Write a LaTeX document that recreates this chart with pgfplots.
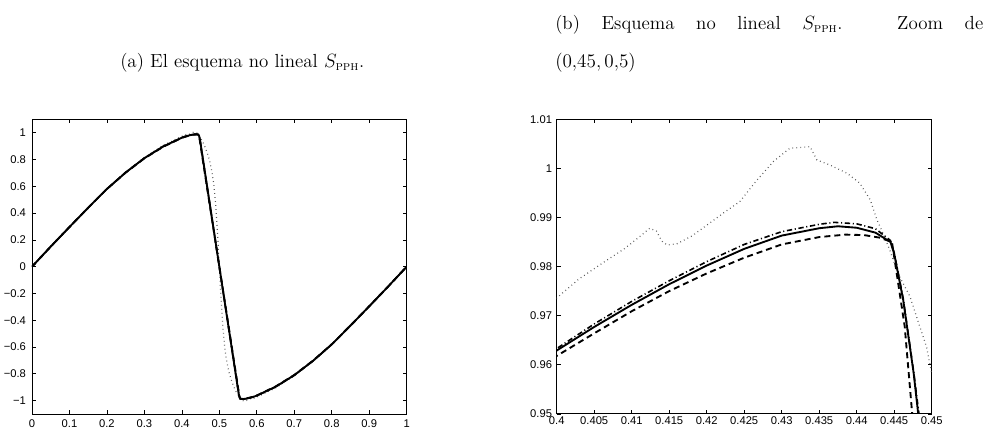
\documentclass[border=0pt]{standalone}
\usepackage{amsmath}
\usepackage{fontspec}
\usepackage{pgfplots}
\usepackage{pgfplotstable}
\pgfplotsset{compat=1.18}
\newfontfamily\ticksf{Liberation Sans}

% Numerical solutions at the final time (x, u)
\pgfplotstableread{
x u
0 0
0.05 0.150
0.1 0.296
0.15 0.440
0.2 0.580
0.25 0.703
0.3 0.810
0.35 0.897
0.4 0.9629
0.405 0.9677
0.41 0.9722
0.415 0.9764
0.42 0.9802
0.425 0.9836
0.43 0.9863
0.435 0.9878
0.4375 0.9882
0.44 0.9879
0.4425 0.9869
0.4445 0.9850
0.445 0.9826
0.4462 0.9732
0.4476 0.9582
0.4482 0.9500
0.46 0.734
0.47 0.550
0.48 0.367
0.49 0.183
0.5 0
0.51 -0.183
0.52 -0.367
0.53 -0.550
0.54 -0.734
0.5518 -0.9500
0.5524 -0.9582
0.5538 -0.9732
0.555 -0.9826
0.5555 -0.9850
0.5575 -0.9869
0.56 -0.9879
0.5625 -0.9882
0.565 -0.9878
0.57 -0.9863
0.575 -0.9836
0.58 -0.9802
0.585 -0.9764
0.59 -0.9722
0.595 -0.9677
0.6 -0.9629
0.65 -0.897
0.7 -0.810
0.75 -0.703
0.8 -0.580
0.85 -0.440
0.9 -0.296
0.95 -0.150
1 0
}\solsolid

\pgfplotstableread{
x u
0 0
0.05 0.150
0.1 0.296
0.15 0.440
0.2 0.580
0.25 0.702
0.3 0.809
0.35 0.895
0.4 0.9618
0.405 0.9664
0.41 0.9709
0.415 0.9750
0.42 0.9786
0.425 0.9818
0.43 0.9845
0.435 0.9860
0.4385 0.9865
0.441 0.9864
0.443 0.9859
0.4447 0.9850
0.4455 0.9769
0.4464 0.9678
0.4474 0.9500
0.46 0.722
0.47 0.541
0.48 0.361
0.49 0.181
0.5 0
0.51 -0.181
0.52 -0.361
0.53 -0.541
0.54 -0.722
0.5526 -0.9500
0.5536 -0.9678
0.5545 -0.9769
0.5553 -0.9850
0.557 -0.9859
0.559 -0.9864
0.5615 -0.9865
0.565 -0.9860
0.57 -0.9845
0.575 -0.9818
0.58 -0.9786
0.585 -0.9750
0.59 -0.9709
0.595 -0.9664
0.6 -0.9618
0.65 -0.895
0.7 -0.809
0.75 -0.702
0.8 -0.580
0.85 -0.440
0.9 -0.296
0.95 -0.150
1 0
}\soldashed

\pgfplotstableread{
x u
0 0
0.05 0.150
0.1 0.296
0.15 0.440
0.2 0.581
0.25 0.704
0.3 0.811
0.35 0.898
0.4 0.9633
0.405 0.9683
0.41 0.9729
0.415 0.9771
0.42 0.9810
0.425 0.9845
0.43 0.9871
0.435 0.9886
0.437 0.9890
0.44 0.9887
0.4425 0.9877
0.4445 0.9853
0.445 0.9828
0.4462 0.9735
0.4476 0.9585
0.4483 0.9500
0.46 0.734
0.47 0.550
0.48 0.367
0.49 0.183
0.5 0
0.51 -0.183
0.52 -0.367
0.53 -0.550
0.54 -0.734
0.5517 -0.9500
0.5524 -0.9585
0.5538 -0.9735
0.555 -0.9828
0.5555 -0.9853
0.5575 -0.9877
0.56 -0.9887
0.563 -0.9890
0.565 -0.9886
0.57 -0.9871
0.575 -0.9845
0.58 -0.9810
0.585 -0.9771
0.59 -0.9729
0.595 -0.9683
0.6 -0.9633
0.65 -0.898
0.7 -0.811
0.75 -0.704
0.8 -0.581
0.85 -0.440
0.9 -0.296
0.95 -0.150
1 0
}\soldashdot

\pgfplotstableread{
x u
0 0
0.05 0.150
0.1 0.296
0.15 0.441
0.2 0.582
0.25 0.706
0.3 0.815
0.35 0.905
0.4 0.9736
0.403 0.9775
0.406 0.9806
0.409 0.9836
0.411 0.9860
0.4124 0.9878
0.4133 0.9872
0.414 0.9852
0.4147 0.9844
0.416 0.9846
0.418 0.9862
0.42 0.9884
0.4225 0.9912
0.4244 0.9932
0.4267 0.9976
0.4289 1.0014
0.4311 1.0041
0.4338 1.0044
0.434 1.0037
0.4347 1.0017
0.4364 1.0007
0.4387 0.9990
0.4404 0.9970
0.4418 0.9936
0.4427 0.9895
0.4435 0.9868
0.4444 0.9834
0.4455 0.9786
0.4471 0.9739
0.4484 0.9678
0.4493 0.9637
0.45 0.9583
0.455 0.935
0.46 0.905
0.465 0.870
0.47 0.830
0.475 0.780
0.48 0.710
0.485 0.620
0.49 0.470
0.495 0.260
0.5 0
0.505 -0.260
0.51 -0.470
0.515 -0.620
0.52 -0.710
0.525 -0.780
0.53 -0.830
0.535 -0.870
0.54 -0.905
0.545 -0.935
0.55 -0.9583
0.5507 -0.9637
0.5516 -0.9678
0.5529 -0.9739
0.5545 -0.9786
0.5556 -0.9834
0.5565 -0.9868
0.5573 -0.9895
0.5582 -0.9936
0.5596 -0.9970
0.5613 -0.9990
0.5636 -1.0007
0.5653 -1.0017
0.566 -1.0037
0.5662 -1.0044
0.5689 -1.0041
0.5711 -1.0014
0.5733 -0.9976
0.5756 -0.9932
0.5775 -0.9912
0.58 -0.9884
0.582 -0.9862
0.584 -0.9846
0.5853 -0.9844
0.586 -0.9852
0.5867 -0.9872
0.5876 -0.9878
0.589 -0.9860
0.591 -0.9836
0.594 -0.9806
0.597 -0.9775
0.6 -0.9736
0.65 -0.905
0.7 -0.815
0.75 -0.706
0.8 -0.582
0.85 -0.441
0.9 -0.296
0.95 -0.150
1 0
}\soldotted

\pgfplotsset{
  matlab/.style={
    scale only axis,
    anchor=south west,
    width=281pt, height=221pt,
    axis line style={line width=0.7pt},
    tick style={black, line width=0.5pt},
    major tick length=3pt,
    tick align=inside,
    xtick pos=both, ytick pos=both,
    tick label style={font=\ticksf\fontsize{8.4}{9.5}\selectfont},
    xticklabel style={yshift=-1pt},
    yticklabel style={xshift=-1pt},
  },
  solidline/.style={black, line width=1.4pt},
  dashedline/.style={black, line width=1.4pt, dash pattern=on 4.5pt off 3pt},
  dashdotline/.style={black, line width=1.2pt, dash pattern=on 4pt off 2pt on 0.8pt off 2pt},
  dottedline/.style={black!65, line width=0.9pt, dash pattern=on 0.6pt off 2.4pt},
}

\newcommand\capfont{\fontsize{14.2}{17}\selectfont}

\begin{document}
\begin{tikzpicture}
\useasboundingbox (0,0) rectangle (737.25pt,323.25pt);

\node[anchor=base west, inner sep=0] at (90pt,272.25pt)
  {\capfont (a) El esquema no lineal $S_{\text{\textsc{pph}}}$.};
\node[anchor=base west, inner sep=0] at (416.25pt,300.75pt)
  {\capfont\makebox[321pt][s]{(b) Esquema no lineal $S_{\text{\textsc{pph}}}$. Zoom de}};
\node[anchor=base west, inner sep=0] at (416.25pt,272.25pt)
  {\capfont $(0{,}45, 0{,}5)$};

\begin{axis}[matlab,
  at={(24pt,12.75pt)},
  xmin=0, xmax=1, ymin=-1.1, ymax=1.1,
  xtick={0,0.1,...,1},
  xticklabels={0,0.1,0.2,0.3,0.4,0.5,0.6,0.7,0.8,0.9,1},
  ytick={-1,-0.8,...,1.01},
  yticklabels={−1,−0.8,−0.6,−0.4,−0.2,0,0.2,0.4,0.6,0.8,1},
]
\addplot[dottedline] table[x=x,y=u] {\soldotted};
\addplot[dashedline] table[x=x,y=u] {\soldashed};
\addplot[dashdotline] table[x=x,y=u] {\soldashdot};
\addplot[solidline] table[x=x,y=u] {\solsolid};
\end{axis}

\begin{axis}[matlab,
  at={(417.5pt,12.75pt)},
  width=281.25pt,
  xmin=0.4, xmax=0.45, ymin=0.95, ymax=1.01,
  xtick={0.4,0.405,...,0.4501},
  xticklabels={0.4,0.405,0.41,0.415,0.42,0.425,0.43,0.435,0.44,0.445,0.45},
  ytick={0.95,0.96,...,1.0101},
  yticklabels={0.95,0.96,0.97,0.98,0.99,1,1.01},
  xticklabel style={yshift=2.5pt},
  yticklabel style={xshift=1pt},
]
\addplot[dottedline] table[x=x,y=u] {\soldotted};
\addplot[dashedline] table[x=x,y=u] {\soldashed};
\addplot[dashdotline] table[x=x,y=u] {\soldashdot};
\addplot[solidline] table[x=x,y=u] {\solsolid};
\end{axis}
\end{tikzpicture}
\end{document}
